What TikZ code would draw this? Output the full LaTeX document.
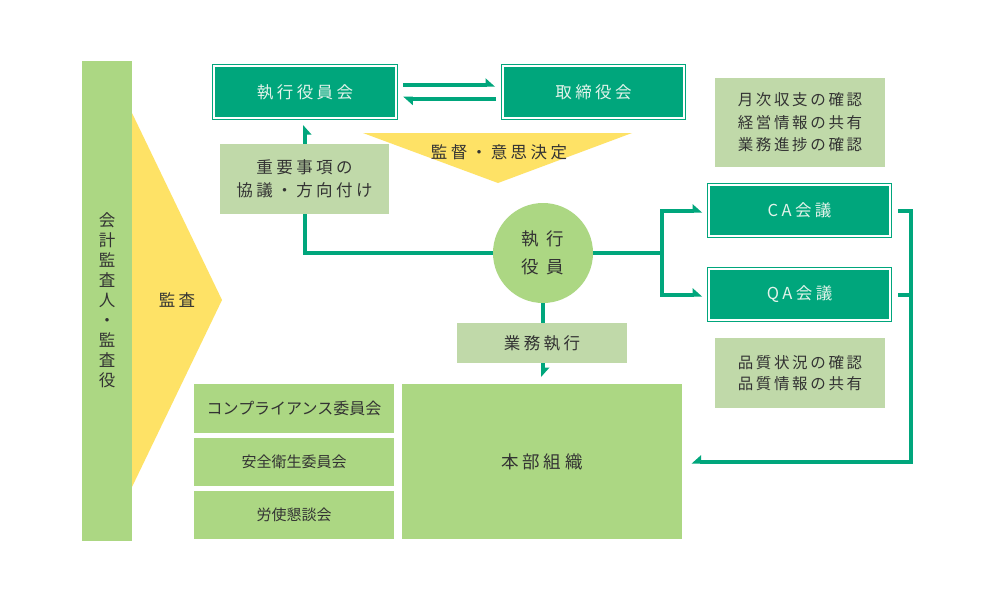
\documentclass[tikz,border=0pt]{standalone}
\usepackage{fontspec}
\setmainfont{Noto Sans CJK JP}
\newfontfamily\jpT[LetterSpace=21]{Noto Sans CJK JP}
\newfontfamily\jpC[LetterSpace=42]{Noto Sans CJK JP}
\newfontfamily\jpS[LetterSpace=17]{Noto Sans CJK JP}
\usetikzlibrary{calc}
\definecolor{dkg}{HTML}{00A67C}
\definecolor{ltg}{HTML}{ACD783}
\definecolor{pale}{HTML}{C0D9A9}
\definecolor{yel}{HTML}{FEE266}
\definecolor{gtext}{HTML}{E2F3EA}
\definecolor{tx}{HTML}{333333}

\pgfdeclarearrow{
  name = HH,
  parameters = {},
  setup code = {
    \pgfarrowssettipend{0pt}
    \pgfarrowssetlineend{-8pt}
    \pgfarrowssetbackend{-9.5pt}
    \pgfarrowssetvisualbackend{-9.5pt}
    \pgfarrowshullpoint{0pt}{-2pt}
    \pgfarrowshullpoint{-9.5pt}{6.5pt}
    \pgfarrowshullpoint{-9.5pt}{-2pt}
  },
  drawing code = {
    \pgfpathmoveto{\pgfqpoint{0pt}{-2pt}}
    \pgfpathlineto{\pgfqpoint{-9.5pt}{6.5pt}}
    \pgfpathlineto{\pgfqpoint{-9.5pt}{-2pt}}
    \pgfpathclose
    \pgfusepathqfill
  }
}
\pgfdeclarearrow{
  name = HHs,
  parameters = {},
  setup code = {
    \pgfarrowssettipend{0pt}
    \pgfarrowssetlineend{-8pt}
    \pgfarrowssetbackend{-9.5pt}
    \pgfarrowssetvisualbackend{-9.5pt}
    \pgfarrowshullpoint{0pt}{2pt}
    \pgfarrowshullpoint{-9.5pt}{-6.5pt}
    \pgfarrowshullpoint{-9.5pt}{2pt}
  },
  drawing code = {
    \pgfpathmoveto{\pgfqpoint{0pt}{2pt}}
    \pgfpathlineto{\pgfqpoint{-9.5pt}{-6.5pt}}
    \pgfpathlineto{\pgfqpoint{-9.5pt}{2pt}}
    \pgfpathclose
    \pgfusepathqfill
  }
}

\begin{document}
\begin{tikzpicture}[x=1pt,y=-1pt,
  gbox/.style={draw=dkg, double=white, double distance=2pt, line width=1pt,
    fill=dkg, inner sep=0pt, outer sep=0pt, text=gtext,
    font=\jpT\fontsize{16.5}{20}\selectfont},
  pbox/.style={fill=pale, inner sep=0pt, outer sep=0pt, text=tx, align=center},
  lbox/.style={fill=ltg, inner sep=0pt, outer sep=0pt, text=tx, align=center},
  conn/.style={draw=dkg, line width=4pt},
  ytri/.style={fill=yel}
]
\useasboundingbox (0,0) rectangle (998,598);
\fill[white] (0,0) rectangle (998,598);

% yellow triangles
\fill[ytri] (132,113) -- (222,300) -- (132,487) -- cycle;
\fill[ytri] (363,133) -- (632,133) -- (498,183) -- cycle;
\node[text=tx, font=\jpT\fontsize{16.5}{20}\selectfont] (kansa) at (177,300) {監査};
\node[text=tx, font=\jpT\fontsize{16.5}{20}\selectfont] (kantoku) at (499,152) {監督・意思決定};

% left bar
\node[lbox, minimum width=50pt, minimum height=480pt,
  font=\fontsize{16.5}{20}\selectfont] (bar) at (107,300.5)
  {会\\計\\監\\査\\人\\・\\監\\査\\役};

% green boxes
\node[gbox, minimum width=182pt, minimum height=52pt] (exec) at (305,92) {執行役員会};
\node[gbox, minimum width=181pt, minimum height=52pt] (bod) at (593.5,92) {取締役会};
\node[gbox, minimum width=181pt, minimum height=51pt] (ca) at (799.5,210.5) {CA会議};
\node[gbox, minimum width=181pt, minimum height=51pt] (qa) at (799.5,294.5) {QA会議};

% circle
\node[circle, fill=ltg, minimum size=100pt, inner sep=0pt, outer sep=0pt, text=tx,
  align=center, font=\jpC\fontsize{17.5}{28}\selectfont] (circ) at (543,253) {執行\\役員};

% pale info boxes
\node[pbox, minimum width=170pt, minimum height=89pt,
  font=\jpS\fontsize{15.5}{22.5}\selectfont] (monthly) at (800,122.5)
  {月次収支の確認\\経営情報の共有\\業務進捗の確認};
\node[pbox, minimum width=170pt, minimum height=70pt,
  font=\jpS\fontsize{15.5}{21.5}\selectfont] (quality) at (800,373)
  {品質状況の確認\\品質情報の共有};

% bottom organisation boxes
\node[lbox, minimum width=200pt, minimum height=49pt,
  font=\fontsize{16}{20}\selectfont] (comp) at (294,408.5) {コンプライアンス委員会};
\node[lbox, minimum width=200pt, minimum height=48pt,
  font=\fontsize{15}{20}\selectfont] (safety) at (294,462) {安全衛生委員会};
\node[lbox, minimum width=200pt, minimum height=48pt,
  font=\fontsize{15}{20}\selectfont] (labor) at (294,515) {労使懇談会};
\node[lbox, minimum width=280pt, minimum height=155pt,
  font=\jpT\fontsize{17.5}{20}\selectfont] (honbu) at (542,461.5) {本部組織};

% connectors
\draw[conn, -HH, shorten <=7pt, shorten >=8pt]
  ($(exec.east)+(0,-7.3)$) -- ($(bod.west)+(0,-7.3)$);
\draw[conn, -HH, shorten <=7pt, shorten >=7.3pt]
  ($(bod.west)+(0,6.7)$) -- ($(exec.east)+(0,6.7)$);
\draw[conn, -HHs, shorten >=7pt] (circ.west) -| (exec.south);
\coordinate (fork) at (662,253);
\draw[conn] (circ.east) -- (fork);
\draw[conn, -HH, shorten >=7pt] (fork) |- (ca.west);
\draw[conn, -HH, shorten >=7pt] (fork) |- (qa.west);
\draw[conn, -HH, shorten >=7pt] (circ.south) -- (circ.south |- honbu.north);
\coordinate (rx) at (911,0);
\draw[conn, -HHs, shorten <=8pt, shorten >=9.7pt]
  (ca.east) -| (rx |- honbu.east) -- (honbu.east);
\draw[conn, shorten <=8pt] (qa.east) -- (rx |- qa.east);

% overlay label boxes
\node[pbox, minimum width=169pt, minimum height=70pt,
  font=\jpT\fontsize{16.5}{23}\selectfont] (juyo) at (304.5,179)
  {重要事項の\\協議・方向付け};
\node[pbox, minimum width=170pt, minimum height=40pt,
  font=\jpT\fontsize{16.5}{20}\selectfont] (gyomu) at (542,343) {業務執行};
\end{tikzpicture}
\end{document}
